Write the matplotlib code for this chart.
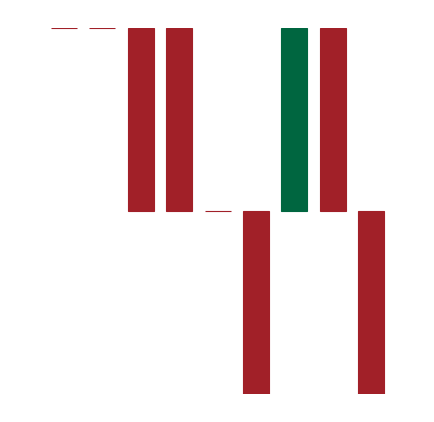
import numpy as np
import matplotlib.pyplot as plt

# open / close for each period
periods = ['1', '2', '3', '4', '5', '6', '7', '8', '9']
opens = [100, 100, 100, 100, 50, 50, 50, 100, 50]
closes = [100, 100, 50, 50, 50, 0, 100, 50, 0]

up_color = '#006640'
down_color = '#A12028'

fig = plt.figure(figsize=(4.34, 4.22), dpi=100)
ax = fig.add_axes([0.1032, 0.0652, 0.796, 0.8685])

x = np.arange(len(periods))
o = np.array(opens)
c = np.array(closes)
colors = [up_color if cc > oo else down_color for oo, cc in zip(o, c)]

ax.bar(x, c - o, bottom=o, width=0.678, color=colors,
       edgecolor=colors, linewidth=0.8)

ax.set_xlim(-0.5, len(periods) - 0.5)
ax.set_ylim(0, 100)
ax.axis('off')

fig.savefig('out.png', dpi=100)
